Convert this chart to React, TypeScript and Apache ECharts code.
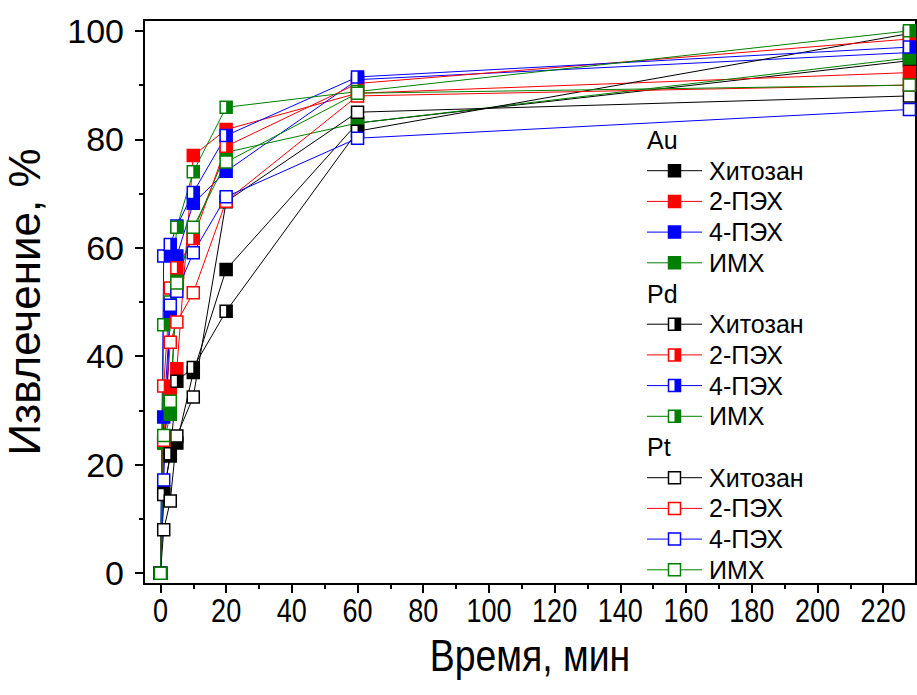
import { useEffect, useRef } from "react";
import * as echarts from "echarts";

// Sampling times, min
const TIME_MIN = [0, 1, 3, 5, 10, 20, 60, 228];

const METALS = ["Au", "Pd", "Pt"];
const SORBENTS = ["Хитозан", "2-ПЭХ", "4-ПЭХ", "ИМХ"];
const SORBENT_COLORS = ["#000000", "#ff0000", "#0000ff", "#008000"];

// Extraction, % — gold
const auChitosan = [0, 15, 21.6, 24, 37, 56, 83, 94.5];
const au2PEH = [0, 24, 34, 37.7, 77, 81.8, 88.5, 92.3];
const au4PEH = [0, 28.8, 48, 58.5, 68.2, 74.1, 91, 96];
const auIMH = [0, 24, 29.3, 54, 63, 77.6, 83, 95];

// Extraction, % — palladium
const pdChitosan = [0, 14.5, 22, 35.4, 37.9, 48.3, 81.5, 99.5];
const pd2PEH = [0, 34.5, 52.6, 56.3, 61.7, 78.7, 90.3, 98.5];
const pd4PEH = [0, 58.5, 60.6, 64, 70.2, 80.7, 91.5, 97];
const pdIMH = [0, 45.8, 50, 63.8, 74, 85.9, 88.8, 100];

// Extraction, % — platinum
const ptChitosan = [0, 8, 13.3, 25.3, 32.5, 68.5, 85, 88];
const pt2PEH = [0, 24.5, 42.6, 46.3, 51.7, 68.6, 88, 90];
const pt4PEH = [0, 17.2, 49.4, 52, 59.1, 69.4, 80.2, 85.5];
const ptIMH = [0, 25.4, 31.7, 53.5, 63.8, 75.8, 88.5, 90];

const AU_SERIES = [auChitosan, au2PEH, au4PEH, auIMH];
const PD_SERIES = [pdChitosan, pd2PEH, pd4PEH, pdIMH];
const PT_SERIES = [ptChitosan, pt2PEH, pt4PEH, ptIMH];

const X_TICKS = [0, 20, 40, 60, 80, 100, 120, 140, 160, 180, 200, 220];
const X_MINOR = [10, 30, 50, 70, 90, 110, 130, 150, 170, 190, 210];
const Y_TICKS = [0, 20, 40, 60, 80, 100];
const Y_MINOR = [10, 30, 50, 70, 90];

const X_TITLE = "Время, мин";
const Y_TITLE = "Извлечение, %";

const SANS = "'Liberation Sans', Arial, sans-serif";

const GRID = { left: 144, right: 1, top: 20, bottom: 111 };
const WIDTH = 917;
const HEIGHT = 695;

type Fill = "full" | "half" | "open";
const MARKER = 12;

function pairs(values: number[]) {
  return values.map((v, i) => [TIME_MIN[i], v]);
}

function buildSeries(metal: string, sets: number[][], fill: Fill): any[] {
  const out: any[] = [];
  sets.forEach((values, k) => {
    const color = SORBENT_COLORS[k];
    const data = pairs(values);
    out.push({
      type: "line",
      name: `${metal} ${SORBENTS[k]}`,
      data,
      symbol: "rect",
      symbolSize: MARKER,
      showSymbol: true,
      lineStyle: { color, width: 1 },
      itemStyle: {
        color: fill === "full" ? color : "#ffffff",
        borderColor: color,
        borderWidth: 1.5,
        opacity: 1,
      },
      emphasis: { disabled: true },
    });
    if (fill === "half") {
      // right half of the marker filled with the series colour
      out.push({
        type: "line",
        name: `${metal} ${SORBENTS[k]} fill`,
        data,
        symbol: "rect",
        symbolSize: [MARKER / 2, MARKER],
        symbolOffset: [MARKER / 4, 0],
        showSymbol: true,
        lineStyle: { width: 0, opacity: 0 },
        itemStyle: { color, borderWidth: 0 },
        emphasis: { disabled: true },
      });
    }
  });
  return out;
}

function legendGraphics(): any[] {
  const els: any[] = [];
  const x0 = 647;
  const lineEnd = 702;
  const mx = 674.5;
  const textX = 709;
  let y = 140;
  const step = 30.7;
  const fills: Fill[] = ["full", "half", "open"];
  const font = { fontSize: 25, fontFamily: SANS, fill: "#000", verticalAlign: "middle", align: "left" };
  METALS.forEach((metal, m) => {
    els.push({ type: "text", x: x0, y, style: { text: metal, ...font } });
    y += step;
    SORBENTS.forEach((label, k) => {
      const color = SORBENT_COLORS[k];
      const f = fills[m];
      els.push({
        type: "line",
        shape: { x1: x0, y1: y, x2: lineEnd, y2: y },
        style: { stroke: color, lineWidth: 1 },
      });
      els.push({
        type: "rect",
        shape: { x: mx - MARKER / 2, y: y - MARKER / 2, width: MARKER, height: MARKER },
        style: { fill: f === "full" ? color : "#fff", stroke: color, lineWidth: 1.5 },
      });
      if (f === "half") {
        els.push({
          type: "rect",
          shape: { x: mx, y: y - MARKER / 2, width: MARKER / 2, height: MARKER },
          style: { fill: color },
        });
      }
      els.push({ type: "text", x: textX, y, style: { text: label, ...font } });
      y += step;
    });
  });
  return els;
}

export default function App() {
  const ref = useRef<HTMLDivElement>(null);

  useEffect(() => {
    if (!ref.current) return;
    const chart = echarts.init(ref.current, undefined, { renderer: "svg" });

    const series = [
      ...buildSeries("Au", AU_SERIES, "full"),
      ...buildSeries("Pd", PD_SERIES, "half"),
      ...buildSeries("Pt", PT_SERIES, "open"),
    ];

    chart.setOption({
      animation: false,
      backgroundColor: "#ffffff",
      grid: {
        ...GRID,
        outerBoundsMode: "none",
        containLabel: false,
        show: true,
        borderColor: "#000",
        borderWidth: 2,
        backgroundColor: "transparent",
      },
      xAxis: [
        {
          type: "value",
          min: -5,
          max: 230,
          position: "bottom",
          axisLine: { show: true, onZero: false, lineStyle: { color: "#000", width: 2 } },
          axisTick: { show: true, customValues: X_TICKS, length: 9, lineStyle: { color: "#000", width: 2 } },
          // labels are drawn below as condensed text
          axisLabel: { show: false },
          splitLine: { show: false },
        },
        {
          type: "value",
          min: -5,
          max: 230,
          position: "bottom",
          axisLine: { show: false, onZero: false },
          axisTick: { show: true, customValues: X_MINOR, length: 5, lineStyle: { color: "#000", width: 2 } },
          axisLabel: { show: false },
          splitLine: { show: false },
        },
      ],
      yAxis: [
        {
          type: "value",
          min: -2,
          max: 102,
          position: "left",
          axisLine: { show: true, onZero: false, lineStyle: { color: "#000", width: 2 } },
          axisTick: { show: true, customValues: Y_TICKS, length: 9, lineStyle: { color: "#000", width: 2 } },
          axisLabel: {
            show: true,
            customValues: Y_TICKS,
            fontSize: 34,
            fontFamily: SANS,
            color: "#000",
            margin: 20,
          },
          splitLine: { show: false },
          name: Y_TITLE,
          nameLocation: "middle",
          nameGap: 98,
          nameTextStyle: { fontSize: 44, fontFamily: SANS, color: "#000" },
        },
        {
          type: "value",
          min: -2,
          max: 102,
          position: "left",
          axisLine: { show: false, onZero: false },
          axisTick: { show: true, customValues: Y_MINOR, length: 5, lineStyle: { color: "#000", width: 2 } },
          axisLabel: { show: false },
          splitLine: { show: false },
        },
      ],
      series,
    });

    // Condensed x tick labels and axis title, placed through the x axis scale
    const axisY = HEIGHT - GRID.bottom;
    const xLabels = X_TICKS.map((v) => ({
      type: "text",
      x: chart.convertToPixel({ xAxisIndex: 0 }, v) as number,
      y: axisY + 10,
      scaleX: 0.82,
      style: {
        text: String(v),
        fontSize: 33,
        fontFamily: SANS,
        fill: "#000",
        align: "center",
        verticalAlign: "top",
      },
    }));
    const xTitle = {
      type: "text",
      x: (GRID.left + WIDTH - GRID.right) / 2,
      y: axisY + 50,
      scaleX: 0.85,
      style: {
        text: X_TITLE,
        fontSize: 44,
        fontFamily: SANS,
        fill: "#000",
        align: "center",
        verticalAlign: "top",
      },
    };

    chart.setOption({ graphic: [...legendGraphics(), ...xLabels, xTitle] });

    return () => chart.dispose();
  }, []);

  return (
    <div
      ref={ref}
      style={{ position: "absolute", left: 0, top: 0, width: WIDTH, height: HEIGHT, background: "#fff" }}
    />
  );
}
